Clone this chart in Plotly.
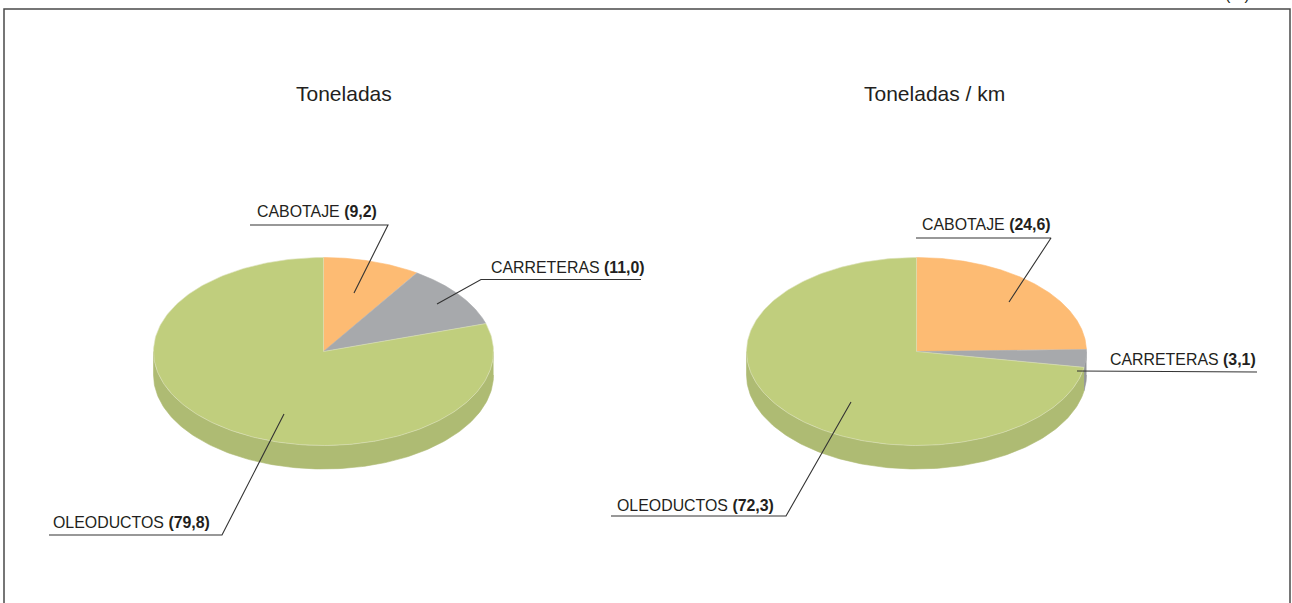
import numpy as np
import plotly.graph_objects as go

# --- data ---
categories = ["CABOTAJE", "CARRETERAS", "OLEODUCTOS"]
toneladas = [9.2, 11.0, 79.8]
toneladas_km = [24.6, 3.1, 72.3]
titles = ["Toneladas", "Toneladas / km"]
unit = "(%)"

# --- styles and layout (pixel space of the page) ---
W, H = 1292, 603
top_colors = ["#FDBB73", "#A7A9AC", "#C0CE7D"]
side_colors = ["#E3A765", "#939598", "#AEBB73"]
INK = "#231F20"
RX, RY, DEPTH, CY = 170, 94, 23.5, 351.5
centers = [323.5, 916.5]
title_pos = [(344, 93), (934, 93)]
label_pos = [
    [(255.5, 211), (489.5, 267), (51.5, 522)],
    [(920.5, 224), (1108.5, 359), (615.5, 505)],
]
leaders = [
    [[(250, 225), (388, 225), (354, 293)],
     [(641, 279.5), (481, 279.5), (437, 304)],
     [(49, 535), (222, 535), (284, 414)]],
    [[(916, 238), (1051, 238), (1009, 302)],
     [(1257, 372), (1077, 371)],
     [(611, 516), (786, 516), (851, 402)]],
]


def ell(cx, cy, theta):
    return cx + RX * np.sin(theta), cy - RY * np.cos(theta)


fig = go.Figure()


def add_poly(x, y, color, line=None, width=0.6):
    fig.add_trace(go.Scatter(x=x, y=y, mode="lines", fill="toself", fillcolor=color,
                             line=dict(color=line or color, width=width),
                             hoverinfo="skip", showlegend=False))


for cx, values in zip(centers, [toneladas, toneladas_km]):
    fr = np.cumsum([0] + values) / sum(values) * 2 * np.pi
    # side wall: only the front half of the disc (90 to 270 degrees) shows
    for i in range(len(values)):
        a, b = max(fr[i], np.pi / 2), min(fr[i + 1], 3 * np.pi / 2)
        if b <= a:
            continue
        t = np.linspace(a, b, 160)
        x, y = ell(cx, CY, t)
        add_poly(np.r_[x, x[::-1]], np.r_[y, y[::-1] + DEPTH], side_colors[i])
    # top face
    for i in range(len(values)):
        t = np.linspace(fr[i], fr[i + 1], 240)
        x, y = ell(cx, CY, t)
        add_poly(np.r_[cx, x, cx], np.r_[CY, y, CY], top_colors[i], line="#DDE3BE" if i == 2 else top_colors[i])

# leader lines
for group in leaders:
    for pts in group:
        fig.add_trace(go.Scatter(x=[p[0] for p in pts], y=[p[1] for p in pts], mode="lines",
                                 line=dict(color="#333333", width=1.1),
                                 hoverinfo="skip", showlegend=False))

annotations = []
for (tx, ty), t in zip(title_pos, titles):
    annotations.append(dict(x=tx, y=ty, text=t, xanchor="center", yanchor="middle", showarrow=False,
                            font=dict(size=21, color=INK)))
for positions, values in zip(label_pos, [toneladas, toneladas_km]):
    for (lx, ly), name, v in zip(positions, categories, values):
        val = f"{v:.1f}".replace(".", ",")
        annotations.append(dict(x=lx, y=ly, text=f"{name} <b>({val})</b>", xanchor="left", yanchor="middle",
                                showarrow=False, borderpad=0, font=dict(size=15.9, color=INK)))
annotations.append(dict(x=1237, y=1 + 5 / H, yref="paper", text=unit, xanchor="center", yanchor="middle",
                        showarrow=False, font=dict(size=16, color=INK)))

fig.update_layout(
    width=W, height=H, margin=dict(l=0, r=0, t=0, b=0),
    paper_bgcolor="white", plot_bgcolor="white",
    font=dict(family="Liberation Sans, Arial, sans-serif"),
    xaxis=dict(range=[0, W], visible=False, fixedrange=True),
    yaxis=dict(range=[H, 0], visible=False, fixedrange=True),
    annotations=annotations,
    shapes=[dict(type="rect", x0=4, y0=9, x1=1290, y1=H + 20, layer="above",
                 line=dict(color="#4A4A4A", width=1.5), fillcolor="rgba(0,0,0,0)")],
)
fig.write_html("out.html", post_script="document.body.style.margin='0';document.body.style.overflow='hidden';",
               config=dict(displayModeBar=False))
